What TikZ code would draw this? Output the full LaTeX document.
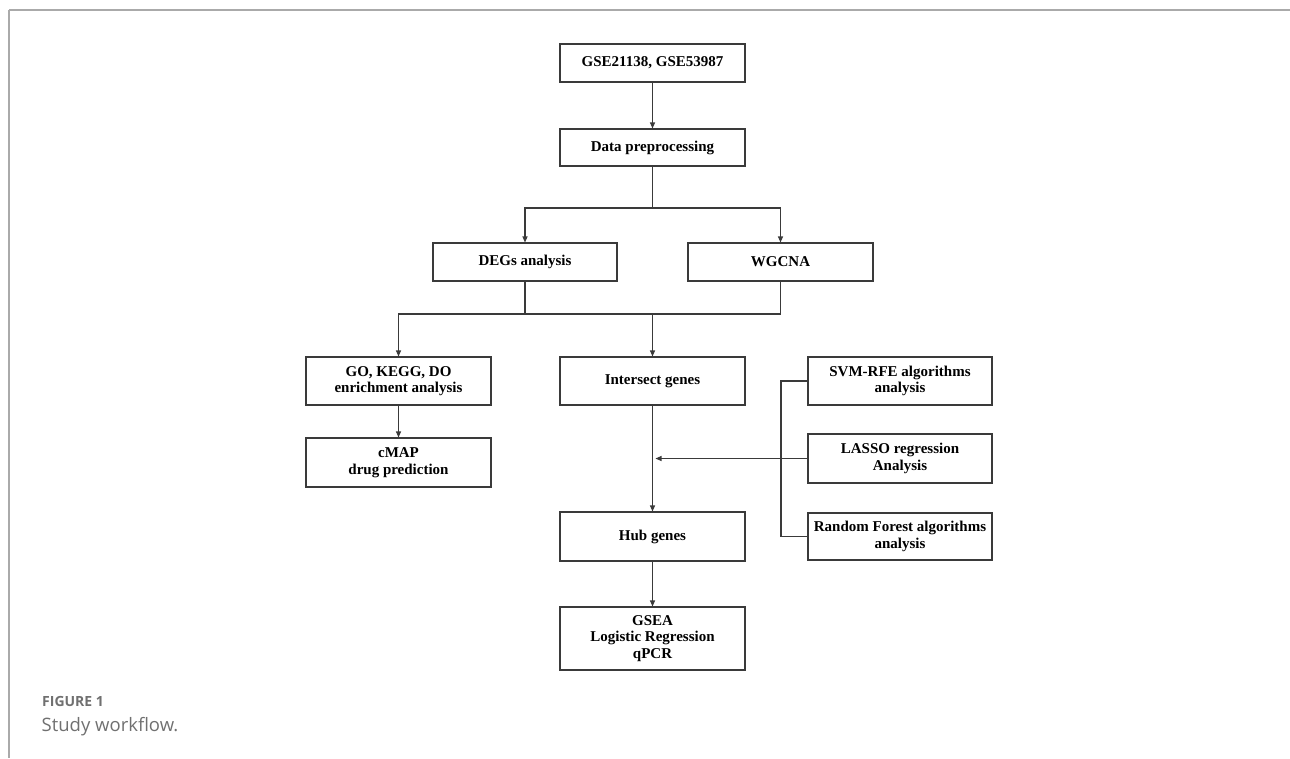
\documentclass[tikz,border=0pt]{standalone}
\usepackage{fontspec}
\setmainfont{Liberation Serif}
\newfontfamily\capfont{Open Sans}
\usetikzlibrary{arrows.meta,calc}
\definecolor{linec}{HTML}{3A3A3A}
\definecolor{framec}{HTML}{AAAAAA}
\definecolor{capc}{HTML}{707070}
\tikzset{
  flowbox/.style={draw=linec, line width=1.05pt, minimum width=185pt, align=center,
    inner sep=0pt, font=\fontsize{15}{16.5}\selectfont\bfseries, text=black},
  conn/.style={draw=linec, line width=1.05pt},
  arr/.style={conn, -{Triangle[length=6pt,width=5pt]}}
}
\begin{document}
\begin{tikzpicture}[x=1pt,y=-1pt]
\useasboundingbox (0,0) rectangle (1290,758);
% frame
\draw[framec, line width=1.3pt] (9,10) -- (1290,10);
\draw[framec, line width=1.3pt] (9,10) -- (9,758);
% boxes
\node[flowbox, minimum height=38pt] (gse) at (652.5,63) {GSE21138, GSE53987};
\node[flowbox, minimum height=37pt] (prep) at (652.5,147.5) {Data preprocessing};
\node[flowbox, minimum height=38pt, minimum width=184pt] (deg) at (525,262) {DEGs analysis};
\node[flowbox, minimum height=38pt] (wgcna) at (780.5,262) {WGCNA};
\node[flowbox, minimum height=48pt] (go) at (398.5,381) {GO, KEGG, DO\\enrichment analysis};
\node[flowbox, minimum height=49pt] (cmap) at (398.5,462.5) {cMAP\\drug prediction};
\node[flowbox, minimum height=48pt] (inter) at (652.5,381) {Intersect genes};
\node[flowbox, minimum height=49pt] (hub) at (652.5,536.5) {Hub genes};
\node[flowbox, minimum height=63pt] (final) at (652.5,638.5) {GSEA\\Logistic Regression\\qPCR};
\node[flowbox, minimum height=48pt, minimum width=184pt] (svm) at (900,381) {SVM-RFE algorithms\\analysis};
\node[flowbox, minimum height=49pt, minimum width=184pt] (lasso) at (900,458.5) {LASSO regression\\Analysis};
\node[flowbox, minimum height=47pt, minimum width=184pt] (rf) at (900,536.5) {Random Forest algorithms\\analysis};
% junctions
\coordinate (j1) at (652.5,208);
\coordinate (j2) at (652.5,314);
\coordinate (m) at (655.5,458.5);
\coordinate (bt) at (781,381);
\coordinate (bb) at (781,536.5);
% connectors
\draw[arr] (gse.south) -- (prep.north);
\draw[conn] (prep.south) -- (j1);
\draw[arr] (j1) -| (deg.north);
\draw[arr] (j1) -| (wgcna.north);
\draw[conn] (deg.south) |- (j2);
\draw[conn] (wgcna.south) |- (j2);
\draw[arr] (j2) -| (go.north);
\draw[arr] (j2) -- (inter.north);
\draw[arr] (go.south) -- (cmap.north);
\draw[arr] (inter.south) -- (hub.north);
\draw[arr] (hub.south) -- (final.north);
\draw[conn] (svm.west) -- (bt) -- (bb) -- (rf.west);
\draw[arr] (lasso.west) -- (m);
% caption
\node[anchor=base west, inner sep=0pt, text=capc, font=\capfont\fontsize{14}{16}\selectfont\bfseries] (figlabel) at (42,706.5) {FIGURE 1};
\node[anchor=base west, inner sep=0pt, text=capc, font=\capfont\fontsize{18.5}{20}\selectfont] (figcap) at (41.5,731.5) {Study workflow.};
\end{tikzpicture}
\end{document}
